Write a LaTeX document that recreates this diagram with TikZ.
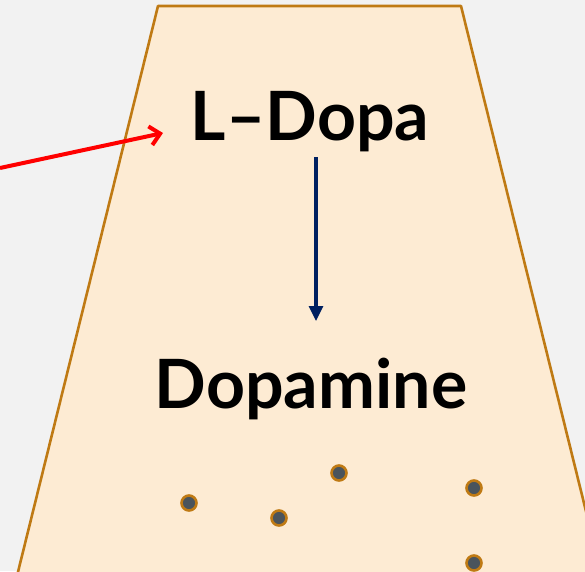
\documentclass[tikz,border=0pt]{standalone}
\usepackage{fontspec}
\setmainfont{Lato}
\usetikzlibrary{arrows.meta}
\definecolor{bg}{HTML}{F2F2F2}
\definecolor{cellfill}{HTML}{FDEBD3}
\definecolor{celledge}{HTML}{BF7A14}
\definecolor{navy}{HTML}{002060}
\definecolor{dotfill}{HTML}{4A545C}
\tikzset{
  label text/.style={font=\bfseries\fontsize{68}{80}\selectfont, inner sep=0pt, anchor=base},
  vesicle/.style={circle, fill=dotfill, draw=celledge, line width=2.6pt, minimum size=15pt, inner sep=0pt},
}
\begin{document}
\begin{tikzpicture}[x=1pt,y=-1pt]
\fill[bg] (0,0) rectangle (585,571);
\useasboundingbox (0,0) rectangle (585,571);
\begin{scope}
\clip (0,0) rectangle (585,571);
\filldraw[fill=cellfill, draw=celledge, line width=2.6pt, line join=round] (158,6) -- (461,6) -- (603,580) -- (16,580) -- cycle;
\end{scope}
\node[label text] (ldopa) at (310,140) {L–Dopa};
\node[label text] (dopamine) at (311,408) {Dopamine};
\coordinate (src) at (0,168);
\coordinate (ldopain) at (163,133);
\draw[red, line width=4pt, -{Straight Barb[length=10pt,width=19pt,line width=4pt]}] (src) -- (ldopain);
\draw[navy, line width=3.2pt, -{Triangle[length=15pt,width=14pt]}] (316,157) coordinate (a1) -- (316,321) coordinate (a2);
\node[vesicle] (v1) at (189,503) {};
\node[vesicle] (v2) at (279,518) {};
\node[vesicle] (v3) at (339,473) {};
\node[vesicle] (v4) at (474,488) {};
\node[vesicle] (v5) at (474,563) {};
\end{tikzpicture}
\end{document}
